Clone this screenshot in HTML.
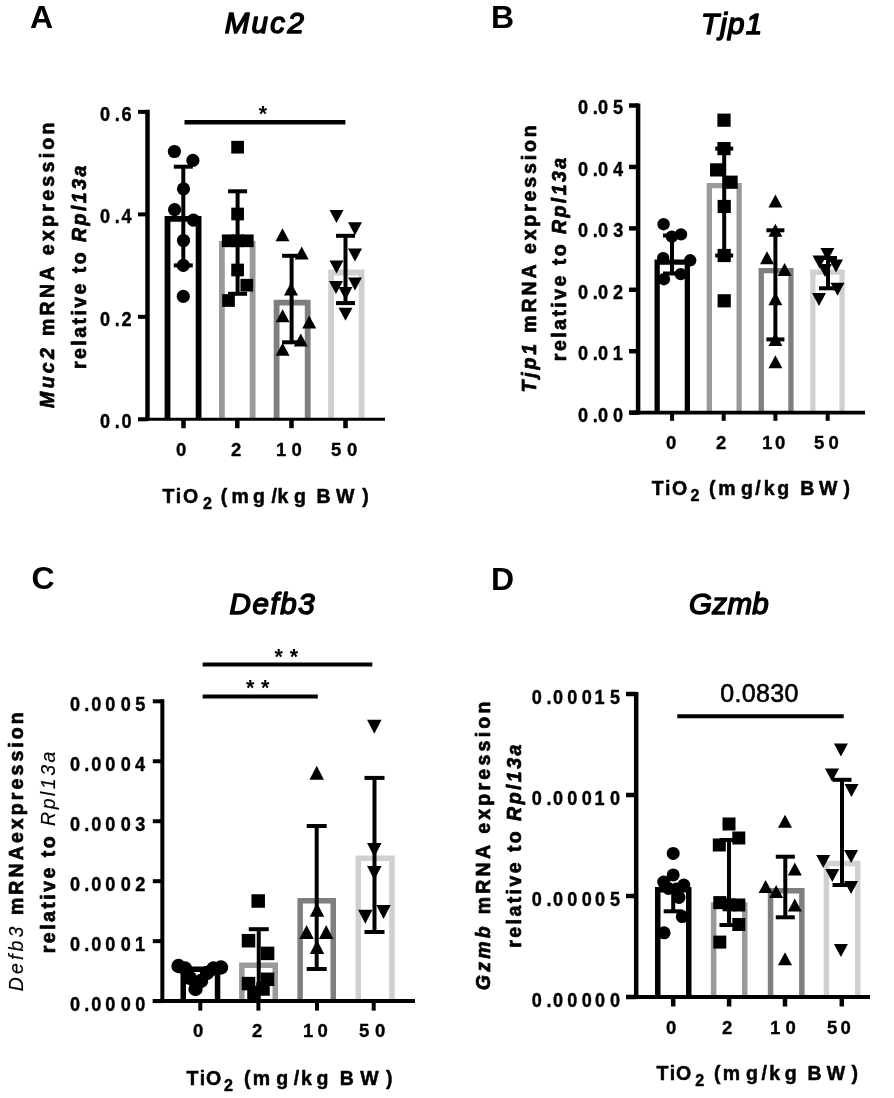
<!DOCTYPE html><html><head><meta charset="utf-8"><style>html,body{margin:0;padding:0;background:#fff;width:894px;height:1098px;overflow:hidden}svg{display:block;will-change:transform}text{font-family:"Liberation Sans", sans-serif;fill:#000}</style></head><body>
<svg width="894" height="1098" viewBox="0 0 894 1098">
<rect width="894" height="1098" fill="#fff"/>
<path d="M167.50 418.05 V218.80 H198.60 V418.05" fill="none" stroke="#000" stroke-width="5.8" stroke-linejoin="miter" stroke-linecap="butt"/>
<path d="M221.90 418.05 V243.90 H252.60 V418.05" fill="none" stroke="#9a9a9a" stroke-width="5.8" stroke-linejoin="miter" stroke-linecap="butt"/>
<path d="M276.60 418.05 V302.70 H307.70 V418.05" fill="none" stroke="#7f7f7f" stroke-width="5.8" stroke-linejoin="miter" stroke-linecap="butt"/>
<path d="M331.10 418.05 V272.50 H361.60 V418.05" fill="none" stroke="#d0d0d0" stroke-width="5.8" stroke-linejoin="miter" stroke-linecap="butt"/>
<line x1="147.5" y1="109.8" x2="147.5" y2="420.85" stroke="#000" stroke-width="4.5"/>
<line x1="138" y1="111.9" x2="147.5" y2="111.9" stroke="#000" stroke-width="4"/>
<line x1="138" y1="214.37" x2="147.5" y2="214.37" stroke="#000" stroke-width="4"/>
<line x1="138" y1="316.83" x2="147.5" y2="316.83" stroke="#000" stroke-width="4"/>
<line x1="138" y1="419.3" x2="147.5" y2="419.3" stroke="#000" stroke-width="4"/>
<line x1="138" y1="419.3" x2="385" y2="419.3" stroke="#000" stroke-width="3.1"/>
<line x1="183.5" y1="419.3" x2="183.5" y2="428.2" stroke="#000" stroke-width="4.5"/>
<line x1="237.3" y1="419.3" x2="237.3" y2="428.2" stroke="#000" stroke-width="4.5"/>
<line x1="291.5" y1="419.3" x2="291.5" y2="428.2" stroke="#000" stroke-width="4.5"/>
<line x1="345.5" y1="419.3" x2="345.5" y2="428.2" stroke="#000" stroke-width="4.5"/>
<line x1="183.3" y1="166.7" x2="183.3" y2="265.4" stroke="#000" stroke-width="4"/>
<line x1="173.8" y1="166.7" x2="192.8" y2="166.7" stroke="#000" stroke-width="4"/>
<line x1="173.8" y1="265.4" x2="192.8" y2="265.4" stroke="#000" stroke-width="4"/>
<line x1="237.6" y1="191.3" x2="237.6" y2="293.8" stroke="#000" stroke-width="4"/>
<line x1="228.1" y1="191.3" x2="247.1" y2="191.3" stroke="#000" stroke-width="4"/>
<line x1="228.1" y1="293.8" x2="247.1" y2="293.8" stroke="#000" stroke-width="4"/>
<line x1="291.6" y1="255.8" x2="291.6" y2="342.3" stroke="#000" stroke-width="4"/>
<line x1="282.1" y1="255.8" x2="301.1" y2="255.8" stroke="#000" stroke-width="4"/>
<line x1="282.1" y1="342.3" x2="301.1" y2="342.3" stroke="#000" stroke-width="4"/>
<line x1="345.5" y1="235.8" x2="345.5" y2="303.1" stroke="#000" stroke-width="4"/>
<line x1="336.0" y1="235.8" x2="355.0" y2="235.8" stroke="#000" stroke-width="4"/>
<line x1="336.0" y1="303.1" x2="355.0" y2="303.1" stroke="#000" stroke-width="4"/>
<circle cx="174.4" cy="151.5" r="6.6"/>
<circle cx="192.9" cy="160.4" r="6.6"/>
<circle cx="183.5" cy="188.8" r="6.6"/>
<circle cx="174.6" cy="209.6" r="6.6"/>
<circle cx="193.4" cy="220.1" r="6.6"/>
<circle cx="183.5" cy="240.5" r="6.6"/>
<circle cx="183.3" cy="265.4" r="6.6"/>
<circle cx="183.3" cy="296.3" r="6.6"/>
<rect x="231.25" y="140.85" width="12.7" height="12.7"/>
<rect x="231.25" y="207.65" width="12.7" height="12.7"/>
<rect x="221.85" y="234.45" width="12.7" height="12.7"/>
<rect x="240.95" y="234.45" width="12.7" height="12.7"/>
<rect x="231.25" y="234.45" width="12.7" height="12.7"/>
<rect x="231.25" y="263.65" width="12.7" height="12.7"/>
<rect x="240.45" y="278.85" width="12.7" height="12.7"/>
<rect x="222.15" y="294.15" width="12.7" height="12.7"/>
<path d="M282.50 228.30 L289.50 241.30 L275.50 241.30Z"/>
<path d="M301.70 246.40 L308.70 259.40 L294.70 259.40Z"/>
<path d="M291.00 282.50 L298.00 295.50 L284.00 295.50Z"/>
<path d="M282.60 309.20 L289.60 322.20 L275.60 322.20Z"/>
<path d="M309.20 315.60 L316.20 328.60 L302.20 328.60Z"/>
<path d="M300.80 333.50 L307.80 346.50 L293.80 346.50Z"/>
<path d="M282.60 342.80 L289.60 355.80 L275.60 355.80Z"/>
<path d="M329.50 210.10 L343.50 210.10 L336.50 223.10Z"/>
<path d="M348.00 222.20 L362.00 222.20 L355.00 235.20Z"/>
<path d="M348.00 248.50 L362.00 248.50 L355.00 261.50Z"/>
<path d="M329.50 260.50 L343.50 260.50 L336.50 273.50Z"/>
<path d="M329.00 281.00 L343.00 281.00 L336.00 294.00Z"/>
<path d="M348.00 277.50 L362.00 277.50 L355.00 290.50Z"/>
<path d="M338.50 287.00 L352.50 287.00 L345.50 300.00Z"/>
<path d="M338.50 307.80 L352.50 307.80 L345.50 320.80Z"/>
<line x1="184.5" y1="122.25" x2="345.4" y2="122.25" stroke="#000" stroke-width="4.6"/>
<path d="M657.15 411.05 V262.15 H687.35 V411.05" fill="none" stroke="#000" stroke-width="5.3" stroke-linejoin="miter" stroke-linecap="butt"/>
<path d="M709.35 411.05 V185.65 H739.15 V411.05" fill="none" stroke="#9a9a9a" stroke-width="5.3" stroke-linejoin="miter" stroke-linecap="butt"/>
<path d="M761.25 411.05 V270.65 H790.95 V411.05" fill="none" stroke="#7f7f7f" stroke-width="5.3" stroke-linejoin="miter" stroke-linecap="butt"/>
<path d="M812.85 411.05 V272.15 H842.05 V411.05" fill="none" stroke="#d0d0d0" stroke-width="5.3" stroke-linejoin="miter" stroke-linecap="butt"/>
<line x1="638.1" y1="103.4" x2="638.1" y2="414.54999999999995" stroke="#000" stroke-width="4.5"/>
<line x1="629" y1="105.5" x2="638.1" y2="105.5" stroke="#000" stroke-width="4.5"/>
<line x1="629" y1="166.93" x2="638.1" y2="166.93" stroke="#000" stroke-width="4.5"/>
<line x1="629" y1="228.36" x2="638.1" y2="228.36" stroke="#000" stroke-width="4.5"/>
<line x1="629" y1="289.79" x2="638.1" y2="289.79" stroke="#000" stroke-width="4.5"/>
<line x1="629" y1="351.22" x2="638.1" y2="351.22" stroke="#000" stroke-width="4.5"/>
<line x1="629" y1="412.65" x2="638.1" y2="412.65" stroke="#000" stroke-width="4.5"/>
<line x1="629" y1="412.65" x2="865" y2="412.65" stroke="#000" stroke-width="3.8"/>
<line x1="672.1" y1="412.65" x2="672.1" y2="420.84999999999997" stroke="#000" stroke-width="4"/>
<line x1="723.7" y1="412.65" x2="723.7" y2="420.84999999999997" stroke="#000" stroke-width="4"/>
<line x1="775.4" y1="412.65" x2="775.4" y2="420.84999999999997" stroke="#000" stroke-width="4"/>
<line x1="827.7" y1="412.65" x2="827.7" y2="420.84999999999997" stroke="#000" stroke-width="4"/>
<line x1="672" y1="235.5" x2="672" y2="273.5" stroke="#000" stroke-width="4"/>
<line x1="663.0" y1="235.5" x2="681.0" y2="235.5" stroke="#000" stroke-width="4"/>
<line x1="663.0" y1="273.5" x2="681.0" y2="273.5" stroke="#000" stroke-width="4"/>
<line x1="724.2" y1="148.6" x2="724.2" y2="255.5" stroke="#000" stroke-width="4"/>
<line x1="715.2" y1="148.6" x2="733.2" y2="148.6" stroke="#000" stroke-width="4"/>
<line x1="715.2" y1="255.5" x2="733.2" y2="255.5" stroke="#000" stroke-width="4"/>
<line x1="775.4" y1="230.3" x2="775.4" y2="339.4" stroke="#000" stroke-width="4"/>
<line x1="766.4" y1="230.3" x2="784.4" y2="230.3" stroke="#000" stroke-width="4"/>
<line x1="766.4" y1="339.4" x2="784.4" y2="339.4" stroke="#000" stroke-width="4"/>
<line x1="828" y1="258" x2="828" y2="288.3" stroke="#000" stroke-width="4"/>
<line x1="819.0" y1="258" x2="837.0" y2="258" stroke="#000" stroke-width="4"/>
<line x1="819.0" y1="288.3" x2="837.0" y2="288.3" stroke="#000" stroke-width="4"/>
<circle cx="663.6" cy="224.2" r="6.2"/>
<circle cx="671.9" cy="236.6" r="6.2"/>
<circle cx="681" cy="234.4" r="6.2"/>
<circle cx="663.2" cy="258.1" r="6.2"/>
<circle cx="690.2" cy="260.3" r="6.2"/>
<circle cx="680.7" cy="274.1" r="6.2"/>
<circle cx="663.9" cy="279.2" r="6.2"/>
<rect x="717.40" y="113.60" width="13.2" height="13.2"/>
<rect x="717.40" y="142.00" width="13.2" height="13.2"/>
<rect x="710.00" y="163.30" width="13.2" height="13.2"/>
<rect x="724.50" y="175.60" width="13.2" height="13.2"/>
<rect x="717.60" y="199.90" width="13.2" height="13.2"/>
<rect x="717.60" y="248.90" width="13.2" height="13.2"/>
<rect x="717.60" y="294.20" width="13.2" height="13.2"/>
<path d="M775.40 194.50 L782.40 207.50 L768.40 207.50Z"/>
<path d="M775.40 223.80 L782.40 236.80 L768.40 236.80Z"/>
<path d="M767.00 251.20 L774.00 264.20 L760.00 264.20Z"/>
<path d="M784.60 263.00 L791.60 276.00 L777.60 276.00Z"/>
<path d="M775.40 292.30 L782.40 305.30 L768.40 305.30Z"/>
<path d="M775.40 332.90 L782.40 345.90 L768.40 345.90Z"/>
<path d="M775.40 355.30 L782.40 368.30 L768.40 368.30Z"/>
<path d="M820.40 247.90 L834.40 247.90 L827.40 260.90Z"/>
<path d="M812.50 255.60 L826.50 255.60 L819.50 268.60Z"/>
<path d="M829.00 259.60 L843.00 259.60 L836.00 272.60Z"/>
<path d="M818.00 264.00 L832.00 264.00 L825.00 277.00Z"/>
<path d="M830.50 282.70 L844.50 282.70 L837.50 295.70Z"/>
<path d="M812.00 293.00 L826.00 293.00 L819.00 306.00Z"/>
<path d="M183.25 999.40 V969.25 H217.55 V999.40" fill="none" stroke="#000" stroke-width="5.5" stroke-linejoin="miter" stroke-linecap="butt"/>
<path d="M241.85 999.40 V965.25 H275.25 V999.40" fill="none" stroke="#9a9a9a" stroke-width="5.5" stroke-linejoin="miter" stroke-linecap="butt"/>
<path d="M300.15 999.40 V900.75 H333.25 V999.40" fill="none" stroke="#7f7f7f" stroke-width="5.5" stroke-linejoin="miter" stroke-linecap="butt"/>
<path d="M358.25 999.40 V858.25 H391.95 V999.40" fill="none" stroke="#d0d0d0" stroke-width="5.5" stroke-linejoin="miter" stroke-linecap="butt"/>
<line x1="162.35" y1="699.2" x2="162.35" y2="1003.1" stroke="#000" stroke-width="4"/>
<line x1="152.8" y1="701.3" x2="162.35" y2="701.3" stroke="#000" stroke-width="4"/>
<line x1="152.8" y1="761.26" x2="162.35" y2="761.26" stroke="#000" stroke-width="4"/>
<line x1="152.8" y1="821.22" x2="162.35" y2="821.22" stroke="#000" stroke-width="4"/>
<line x1="152.8" y1="881.18" x2="162.35" y2="881.18" stroke="#000" stroke-width="4"/>
<line x1="152.8" y1="941.14" x2="162.35" y2="941.14" stroke="#000" stroke-width="4"/>
<line x1="152.8" y1="1001.1" x2="162.35" y2="1001.1" stroke="#000" stroke-width="4"/>
<line x1="152.8" y1="1001.1" x2="415" y2="1001.1" stroke="#000" stroke-width="4"/>
<line x1="200.3" y1="1001.1" x2="200.3" y2="1010.6" stroke="#000" stroke-width="4"/>
<line x1="258.4" y1="1001.1" x2="258.4" y2="1010.6" stroke="#000" stroke-width="4"/>
<line x1="317" y1="1001.1" x2="317" y2="1010.6" stroke="#000" stroke-width="4"/>
<line x1="373.7" y1="1001.1" x2="373.7" y2="1010.6" stroke="#000" stroke-width="4"/>
<line x1="258.75" y1="929.2" x2="258.75" y2="990" stroke="#000" stroke-width="4"/>
<line x1="248.75" y1="929.2" x2="268.75" y2="929.2" stroke="#000" stroke-width="4"/>
<line x1="248.75" y1="990" x2="268.75" y2="990" stroke="#000" stroke-width="4"/>
<line x1="316.7" y1="826" x2="316.7" y2="969" stroke="#000" stroke-width="4"/>
<line x1="306.7" y1="826" x2="326.7" y2="826" stroke="#000" stroke-width="4"/>
<line x1="306.7" y1="969" x2="326.7" y2="969" stroke="#000" stroke-width="4"/>
<line x1="374.5" y1="777.9" x2="374.5" y2="932" stroke="#000" stroke-width="4"/>
<line x1="364.5" y1="777.9" x2="384.5" y2="777.9" stroke="#000" stroke-width="4"/>
<line x1="364.5" y1="932" x2="384.5" y2="932" stroke="#000" stroke-width="4"/>
<circle cx="178.5" cy="966" r="7.2"/>
<circle cx="185" cy="968.5" r="7.2"/>
<circle cx="190" cy="978" r="7.2"/>
<circle cx="195.5" cy="989" r="7.2"/>
<circle cx="201" cy="981" r="7.2"/>
<circle cx="207" cy="973" r="7.2"/>
<circle cx="213.5" cy="968.5" r="7.2"/>
<circle cx="221" cy="967.5" r="7.2"/>
<rect x="251.45" y="894.25" width="13.5" height="13.5"/>
<rect x="241.75" y="933.95" width="13.5" height="13.5"/>
<rect x="260.85" y="946.65" width="13.5" height="13.5"/>
<rect x="241.75" y="976.85" width="13.5" height="13.5"/>
<rect x="260.75" y="972.55" width="13.5" height="13.5"/>
<rect x="247.25" y="985.75" width="13.5" height="13.5"/>
<rect x="256.25" y="982.25" width="13.5" height="13.5"/>
<path d="M316.70 765.80 L323.95 779.80 L309.45 779.80Z"/>
<path d="M317.00 902.70 L324.25 916.70 L309.75 916.70Z"/>
<path d="M306.60 925.00 L313.85 939.00 L299.35 939.00Z"/>
<path d="M326.20 925.00 L333.45 939.00 L318.95 939.00Z"/>
<path d="M317.00 939.90 L324.25 953.90 L309.75 953.90Z"/>
<path d="M367.05 719.70 L381.55 719.70 L374.30 733.70Z"/>
<path d="M367.05 843.00 L381.55 843.00 L374.30 857.00Z"/>
<path d="M367.05 866.00 L381.55 866.00 L374.30 880.00Z"/>
<path d="M358.05 909.80 L372.55 909.80 L365.30 923.80Z"/>
<path d="M376.25 905.10 L390.75 905.10 L383.50 919.10Z"/>
<line x1="202.6" y1="664.5" x2="372.3" y2="664.5" stroke="#000" stroke-width="4"/>
<line x1="202.6" y1="696.6" x2="317.8" y2="696.6" stroke="#000" stroke-width="4"/>
<path d="M657.75 995.20 V889.75 H688.75 V995.20" fill="none" stroke="#000" stroke-width="5.5" stroke-linejoin="miter" stroke-linecap="butt"/>
<path d="M713.65 995.20 V904.95 H744.75 V995.20" fill="none" stroke="#9a9a9a" stroke-width="5.5" stroke-linejoin="miter" stroke-linecap="butt"/>
<path d="M770.55 995.20 V890.75 H801.85 V995.20" fill="none" stroke="#7f7f7f" stroke-width="5.5" stroke-linejoin="miter" stroke-linecap="butt"/>
<path d="M826.45 995.20 V863.45 H857.75 V995.20" fill="none" stroke="#d0d0d0" stroke-width="5.5" stroke-linejoin="miter" stroke-linecap="butt"/>
<line x1="636.2" y1="691.9" x2="636.2" y2="999.1" stroke="#000" stroke-width="4.5"/>
<line x1="626" y1="694" x2="636.2" y2="694" stroke="#000" stroke-width="4.5"/>
<line x1="626" y1="795" x2="636.2" y2="795" stroke="#000" stroke-width="4.5"/>
<line x1="626" y1="896" x2="636.2" y2="896" stroke="#000" stroke-width="4.5"/>
<line x1="626" y1="997" x2="636.2" y2="997" stroke="#000" stroke-width="4.5"/>
<line x1="626" y1="997" x2="870" y2="997" stroke="#000" stroke-width="4.2"/>
<line x1="673.2" y1="997" x2="673.2" y2="1006.5" stroke="#000" stroke-width="4.5"/>
<line x1="729.1" y1="997" x2="729.1" y2="1006.5" stroke="#000" stroke-width="4.5"/>
<line x1="785" y1="997" x2="785" y2="1006.5" stroke="#000" stroke-width="4.5"/>
<line x1="841.8" y1="997" x2="841.8" y2="1006.5" stroke="#000" stroke-width="4.5"/>
<line x1="673.2" y1="889" x2="673.2" y2="911.3" stroke="#000" stroke-width="4"/>
<line x1="663.7" y1="889" x2="682.7" y2="889" stroke="#000" stroke-width="4"/>
<line x1="663.7" y1="911.3" x2="682.7" y2="911.3" stroke="#000" stroke-width="4"/>
<line x1="729" y1="840" x2="729" y2="925" stroke="#000" stroke-width="4"/>
<line x1="719.5" y1="840" x2="738.5" y2="840" stroke="#000" stroke-width="4"/>
<line x1="719.5" y1="925" x2="738.5" y2="925" stroke="#000" stroke-width="4"/>
<line x1="785.3" y1="856.7" x2="785.3" y2="917.3" stroke="#000" stroke-width="4"/>
<line x1="775.8" y1="856.7" x2="794.8" y2="856.7" stroke="#000" stroke-width="4"/>
<line x1="775.8" y1="917.3" x2="794.8" y2="917.3" stroke="#000" stroke-width="4"/>
<line x1="842" y1="779.8" x2="842" y2="885" stroke="#000" stroke-width="4"/>
<line x1="832.5" y1="779.8" x2="851.5" y2="779.8" stroke="#000" stroke-width="4"/>
<line x1="832.5" y1="885" x2="851.5" y2="885" stroke="#000" stroke-width="4"/>
<circle cx="673.2" cy="853.4" r="6.5"/>
<circle cx="673.2" cy="874.9" r="6.5"/>
<circle cx="663.7" cy="882.1" r="6.5"/>
<circle cx="683.8" cy="885" r="6.5"/>
<circle cx="668.5" cy="888.5" r="6.5"/>
<circle cx="676.5" cy="889" r="6.5"/>
<circle cx="679" cy="897.4" r="6.5"/>
<circle cx="682.3" cy="916.6" r="6.5"/>
<circle cx="664.1" cy="932.8" r="6.5"/>
<rect x="722.50" y="817.50" width="13" height="13"/>
<rect x="712.80" y="838.50" width="13" height="13"/>
<rect x="732.30" y="831.50" width="13" height="13"/>
<rect x="713.30" y="896.10" width="13" height="13"/>
<rect x="732.30" y="898.50" width="13" height="13"/>
<rect x="722.50" y="898.30" width="13" height="13"/>
<rect x="732.30" y="918.00" width="13" height="13"/>
<rect x="713.30" y="935.60" width="13" height="13"/>
<path d="M785.00 814.70 L792.00 827.70 L778.00 827.70Z"/>
<path d="M794.80 862.50 L801.80 875.50 L787.80 875.50Z"/>
<path d="M765.60 880.00 L772.60 893.00 L758.60 893.00Z"/>
<path d="M776.20 885.00 L783.20 898.00 L769.20 898.00Z"/>
<path d="M794.80 898.50 L801.80 911.50 L787.80 911.50Z"/>
<path d="M785.00 952.30 L792.00 965.30 L778.00 965.30Z"/>
<path d="M833.90 743.40 L847.90 743.40 L840.90 756.40Z"/>
<path d="M825.00 768.60 L839.00 768.60 L832.00 781.60Z"/>
<path d="M844.50 784.00 L858.50 784.00 L851.50 797.00Z"/>
<path d="M816.20 854.90 L830.20 854.90 L823.20 867.90Z"/>
<path d="M844.10 850.00 L858.10 850.00 L851.10 863.00Z"/>
<path d="M825.30 868.90 L839.30 868.90 L832.30 881.90Z"/>
<path d="M844.10 881.00 L858.10 881.00 L851.10 894.00Z"/>
<path d="M833.90 944.00 L847.90 944.00 L840.90 957.00Z"/>
<line x1="677.3" y1="716.2" x2="843.7" y2="716.2" stroke="#000" stroke-width="4"/>
<text x="30.10" y="28.30" font-size="32" font-weight="bold" font-style="normal" letter-spacing="0.000">A</text>
<text x="490.88" y="27.67" font-size="32" font-weight="bold" font-style="normal" letter-spacing="0.000">B</text>
<text x="31.55" y="589.05" font-size="32" font-weight="bold" font-style="normal" letter-spacing="0.000">C</text>
<text x="490.93" y="590.36" font-size="32" font-weight="bold" font-style="normal" letter-spacing="0.000">D</text>
<text x="224.68" y="33.01" font-size="29.5" font-weight="normal" font-style="italic" letter-spacing="2.340" stroke="#000" stroke-width="1.5" stroke-linejoin="round">Muc2</text>
<text x="701.10" y="34.27" font-size="29.5" font-weight="normal" font-style="italic" letter-spacing="1.200" stroke="#000" stroke-width="1.5" stroke-linejoin="round">Tjp1</text>
<text x="229.54" y="614.18" font-size="29.5" font-weight="normal" font-style="italic" letter-spacing="1.598" stroke="#000" stroke-width="1.5" stroke-linejoin="round">Defb3</text>
<text x="689.10" y="614.08" font-size="29.5" font-weight="normal" font-style="italic" letter-spacing="0.330" stroke="#000" stroke-width="1.5" stroke-linejoin="round">Gzmb</text>
<text transform="translate(115.80,0) scale(0.92,1) translate(-115.80,0)" x="98.65 114.54 122.00" y="120.77" font-size="19.7" font-weight="bold" stroke="#000" stroke-width="0.4" stroke-linejoin="round">0.6</text>
<text transform="translate(115.80,0) scale(0.92,1) translate(-115.80,0)" x="98.65 114.54 121.91" y="223.24" font-size="19.7" font-weight="bold" stroke="#000" stroke-width="0.4" stroke-linejoin="round">0.4</text>
<text transform="translate(115.80,0) scale(0.92,1) translate(-115.80,0)" x="98.65 114.54 122.06" y="325.70" font-size="19.7" font-weight="bold" stroke="#000" stroke-width="0.4" stroke-linejoin="round">0.2</text>
<text transform="translate(115.80,0) scale(0.92,1) translate(-115.80,0)" x="98.65 114.54 122.02" y="428.17" font-size="19.7" font-weight="bold" stroke="#000" stroke-width="0.4" stroke-linejoin="round">0.0</text>
<text transform="translate(600.62,0) scale(0.92,1) translate(-600.62,0)" x="576.16 591.95 597.90 614.11" y="114.41" font-size="19.7" font-weight="bold" stroke="#000" stroke-width="0.4" stroke-linejoin="round">0.05</text>
<text transform="translate(600.62,0) scale(0.92,1) translate(-600.62,0)" x="576.16 591.95 597.90 614.04" y="175.84" font-size="19.7" font-weight="bold" stroke="#000" stroke-width="0.4" stroke-linejoin="round">0.04</text>
<text transform="translate(600.62,0) scale(0.92,1) translate(-600.62,0)" x="576.16 591.95 597.90 614.27" y="237.27" font-size="19.7" font-weight="bold" stroke="#000" stroke-width="0.4" stroke-linejoin="round">0.03</text>
<text transform="translate(600.62,0) scale(0.92,1) translate(-600.62,0)" x="576.16 591.95 597.90 614.19" y="298.70" font-size="19.7" font-weight="bold" stroke="#000" stroke-width="0.4" stroke-linejoin="round">0.02</text>
<text transform="translate(600.62,0) scale(0.92,1) translate(-600.62,0)" x="576.16 591.95 597.90 613.80" y="360.13" font-size="19.7" font-weight="bold" stroke="#000" stroke-width="0.4" stroke-linejoin="round">0.01</text>
<text transform="translate(600.62,0) scale(0.92,1) translate(-600.62,0)" x="576.16 591.95 597.90 614.15" y="421.56" font-size="19.7" font-weight="bold" stroke="#000" stroke-width="0.4" stroke-linejoin="round">0.00</text>
<text transform="translate(107.70,0) scale(0.92,1) translate(-107.70,0)" x="66.85 82.15 89.84 105.17 122.02 137.57" y="711.00" font-size="19.7" font-weight="bold" stroke="#000" stroke-width="0.4" stroke-linejoin="round">0.0005</text>
<text transform="translate(107.70,0) scale(0.92,1) translate(-107.70,0)" x="66.85 82.15 89.84 105.17 122.02 137.51" y="770.96" font-size="19.7" font-weight="bold" stroke="#000" stroke-width="0.4" stroke-linejoin="round">0.0004</text>
<text transform="translate(107.70,0) scale(0.92,1) translate(-107.70,0)" x="66.85 82.15 89.84 105.17 122.02 137.73" y="830.92" font-size="19.7" font-weight="bold" stroke="#000" stroke-width="0.4" stroke-linejoin="round">0.0003</text>
<text transform="translate(107.70,0) scale(0.92,1) translate(-107.70,0)" x="66.85 82.15 89.84 105.17 122.02 137.65" y="890.88" font-size="19.7" font-weight="bold" stroke="#000" stroke-width="0.4" stroke-linejoin="round">0.0002</text>
<text transform="translate(107.70,0) scale(0.92,1) translate(-107.70,0)" x="66.85 82.15 89.84 105.17 122.02 137.26" y="950.84" font-size="19.7" font-weight="bold" stroke="#000" stroke-width="0.4" stroke-linejoin="round">0.0001</text>
<text transform="translate(107.70,0) scale(0.92,1) translate(-107.70,0)" x="66.85 82.15 89.84 105.17 122.02 137.61" y="1010.80" font-size="19.7" font-weight="bold" stroke="#000" stroke-width="0.4" stroke-linejoin="round">0.0000</text>
<text transform="translate(575.92,0) scale(0.92,1) translate(-575.92,0)" x="527.99 543.88 551.08 566.52 582.28 596.22 612.89" y="703.74" font-size="19.7" font-weight="bold" stroke="#000" stroke-width="0.4" stroke-linejoin="round">0.00015</text>
<text transform="translate(575.92,0) scale(0.92,1) translate(-575.92,0)" x="527.99 543.88 551.08 566.52 582.28 596.22 612.93" y="804.74" font-size="19.7" font-weight="bold" stroke="#000" stroke-width="0.4" stroke-linejoin="round">0.00010</text>
<text transform="translate(575.92,0) scale(0.92,1) translate(-575.92,0)" x="527.99 543.88 551.08 566.52 582.28 596.57 612.89" y="905.74" font-size="19.7" font-weight="bold" stroke="#000" stroke-width="0.4" stroke-linejoin="round">0.00005</text>
<text transform="translate(575.92,0) scale(0.92,1) translate(-575.92,0)" x="527.99 543.88 551.08 566.52 582.28 596.57 612.93" y="1006.74" font-size="19.7" font-weight="bold" stroke="#000" stroke-width="0.4" stroke-linejoin="round">0.00000</text>
<text x="176.06" y="455.56" font-size="18.5" font-weight="bold" font-style="normal" letter-spacing="3.000" stroke="#000" stroke-width="0.35" stroke-linejoin="round">0</text>
<text x="231.01" y="455.56" font-size="18.5" font-weight="bold" font-style="normal" letter-spacing="3.000" stroke="#000" stroke-width="0.35" stroke-linejoin="round">2</text>
<text x="276.12" y="455.56" font-size="18.5" font-weight="bold" font-style="normal" letter-spacing="4.980" stroke="#000" stroke-width="0.35" stroke-linejoin="round">10</text>
<text x="331.08" y="455.56" font-size="18.5" font-weight="bold" font-style="normal" letter-spacing="5.610" stroke="#000" stroke-width="0.35" stroke-linejoin="round">50</text>
<text x="666.04" y="448.54" font-size="18.5" font-weight="bold" font-style="normal" letter-spacing="3.000" stroke="#000" stroke-width="0.35" stroke-linejoin="round">0</text>
<text x="716.07" y="448.54" font-size="18.5" font-weight="bold" font-style="normal" letter-spacing="3.000" stroke="#000" stroke-width="0.35" stroke-linejoin="round">2</text>
<text x="762.08" y="448.54" font-size="18.5" font-weight="bold" font-style="normal" letter-spacing="2.640" stroke="#000" stroke-width="0.35" stroke-linejoin="round">10</text>
<text x="814.06" y="448.54" font-size="18.5" font-weight="bold" font-style="normal" letter-spacing="4.170" stroke="#000" stroke-width="0.35" stroke-linejoin="round">50</text>
<text x="193.06" y="1036.60" font-size="18.5" font-weight="bold" font-style="normal" letter-spacing="3.000" stroke="#000" stroke-width="0.35" stroke-linejoin="round">0</text>
<text x="252.03" y="1036.60" font-size="18.5" font-weight="bold" font-style="normal" letter-spacing="3.000" stroke="#000" stroke-width="0.35" stroke-linejoin="round">2</text>
<text x="303.10" y="1036.60" font-size="18.5" font-weight="bold" font-style="normal" letter-spacing="4.080" stroke="#000" stroke-width="0.35" stroke-linejoin="round">10</text>
<text x="359.10" y="1036.60" font-size="18.5" font-weight="bold" font-style="normal" letter-spacing="5.610" stroke="#000" stroke-width="0.35" stroke-linejoin="round">50</text>
<text x="666.04" y="1034.29" font-size="18.5" font-weight="bold" font-style="normal" letter-spacing="3.000" stroke="#000" stroke-width="0.35" stroke-linejoin="round">0</text>
<text x="722.03" y="1034.29" font-size="18.5" font-weight="bold" font-style="normal" letter-spacing="3.000" stroke="#000" stroke-width="0.35" stroke-linejoin="round">2</text>
<text x="770.12" y="1034.29" font-size="18.5" font-weight="bold" font-style="normal" letter-spacing="4.980" stroke="#000" stroke-width="0.35" stroke-linejoin="round">10</text>
<text x="827.02" y="1034.29" font-size="18.5" font-weight="bold" font-style="normal" letter-spacing="3.270" stroke="#000" stroke-width="0.35" stroke-linejoin="round">50</text>
<text transform="translate(54.35,407.91) rotate(-90)" x="0" y="0" font-size="19.5" font-weight="bold" font-style="normal" letter-spacing="3.310" stroke="#000" stroke-width="0.7" stroke-linejoin="round"><tspan font-weight="bold" font-style="italic">Muc2</tspan><tspan font-weight="bold" font-style="normal"> mRNA expression</tspan></text>
<text transform="translate(86.35,369.08) rotate(-90)" x="0" y="0" font-size="19.5" font-weight="bold" font-style="normal" letter-spacing="2.463" stroke="#000" stroke-width="0.7" stroke-linejoin="round"><tspan font-weight="bold" font-style="normal">relative to </tspan><tspan font-weight="bold" font-style="italic">Rpl13a</tspan></text>
<text transform="translate(536.27,392.53) rotate(-90)" x="0" y="0" font-size="19.5" font-weight="bold" font-style="normal" letter-spacing="2.869" stroke="#000" stroke-width="0.7" stroke-linejoin="round"><tspan font-weight="bold" font-style="italic">Tjp1</tspan><tspan font-weight="bold" font-style="normal"> mRNA expression</tspan></text>
<text transform="translate(566.35,361.17) rotate(-90)" x="0" y="0" font-size="19.5" font-weight="bold" font-style="normal" letter-spacing="2.463" stroke="#000" stroke-width="0.7" stroke-linejoin="round"><tspan font-weight="bold" font-style="normal">relative to </tspan><tspan font-weight="bold" font-style="italic">Rpl13a</tspan></text>
<text transform="translate(23.05,991.17) rotate(-90)" x="0" y="0" font-size="19.5" font-weight="bold" font-style="normal" letter-spacing="3.102" stroke="#000" stroke-width="0.7" stroke-linejoin="round"><tspan font-weight="normal" font-style="italic" stroke-width="0.15">Defb3</tspan><tspan font-weight="bold" font-style="normal"> mRNAexpression</tspan></text>
<text transform="translate(54.91,953.26) rotate(-90)" x="0" y="0" font-size="19.5" font-weight="bold" font-style="normal" letter-spacing="2.484" stroke="#000" stroke-width="0.7" stroke-linejoin="round"><tspan font-weight="bold" font-style="normal">relative to </tspan><tspan font-weight="normal" font-style="italic" stroke-width="0.15">Rpl13a</tspan></text>
<text transform="translate(489.90,990.17) rotate(-90)" x="0" y="0" font-size="19.5" font-weight="bold" font-style="normal" letter-spacing="3.248" stroke="#000" stroke-width="0.7" stroke-linejoin="round"><tspan font-weight="bold" font-style="italic">Gzmb</tspan><tspan font-weight="bold" font-style="normal"> mRNA expression</tspan></text>
<text transform="translate(521.26,947.81) rotate(-90)" x="0" y="0" font-size="19.5" font-weight="bold" font-style="normal" letter-spacing="2.447" stroke="#000" stroke-width="0.7" stroke-linejoin="round"><tspan font-weight="bold" font-style="normal">relative to </tspan><tspan font-weight="bold" font-style="italic">Rpl13a</tspan></text>
<text x="720.36" y="701.87" font-size="25" font-weight="normal" font-style="normal" letter-spacing="0.324" stroke="#000" stroke-width="0.6" stroke-linejoin="round">0.0830</text>
<text y="502.90" font-size="19.5" font-weight="bold" stroke="#000" stroke-width="0.5" stroke-linejoin="round"><tspan x="162.49 175.80 183.02">TiO</tspan><tspan x="202.94" dy="6.4" font-size="16">2</tspan><tspan x="220.68 231.54 253.00 271.39 277.39 293.90 316.50 336.05 362.28" dy="-6.4">(mg/kgBW)</tspan></text>
<text y="494.80" font-size="19.5" font-weight="bold" stroke="#000" stroke-width="0.5" stroke-linejoin="round"><tspan x="651.79 665.10 671.97">TiO</tspan><tspan x="690.59" dy="6.4" font-size="16">2</tspan><tspan x="709.08 718.19 741.00 755.34 763.69 777.20 800.15 819.00 843.58" dy="-6.4">(mg/kgBW)</tspan></text>
<text y="1084.80" font-size="19.5" font-weight="bold" stroke="#000" stroke-width="0.5" stroke-linejoin="round"><tspan x="186.44 199.75 205.97">TiO</tspan><tspan x="223.89" dy="6.4" font-size="16">2</tspan><tspan x="244.08 252.84 276.35 293.69 300.99 316.55 339.80 360.35 385.88" dy="-6.4">(mg/kgBW)</tspan></text>
<text y="1079.80" font-size="19.5" font-weight="bold" stroke="#000" stroke-width="0.5" stroke-linejoin="round"><tspan x="656.44 669.75 675.97">TiO</tspan><tspan x="695.24" dy="6.4" font-size="16">2</tspan><tspan x="714.08 722.84 746.00 761.39 769.34 784.85 807.50 826.65 851.53" dy="-6.4">(mg/kgBW)</tspan></text>
<text x="263.05" y="121.16999999999999" font-size="21.5" font-weight="bold" font-style="normal" text-anchor="middle" letter-spacing="0" >*</text>
<text x="278.8" y="664.2700000000001" font-size="21.5" font-weight="bold" font-style="normal" text-anchor="middle" letter-spacing="0" >*</text>
<text x="294" y="664.2700000000001" font-size="21.5" font-weight="bold" font-style="normal" text-anchor="middle" letter-spacing="0" >*</text>
<text x="250.3" y="695.1700000000001" font-size="21.5" font-weight="bold" font-style="normal" text-anchor="middle" letter-spacing="0" >*</text>
<text x="265.2" y="695.1700000000001" font-size="21.5" font-weight="bold" font-style="normal" text-anchor="middle" letter-spacing="0" >*</text>
</svg></body></html>
